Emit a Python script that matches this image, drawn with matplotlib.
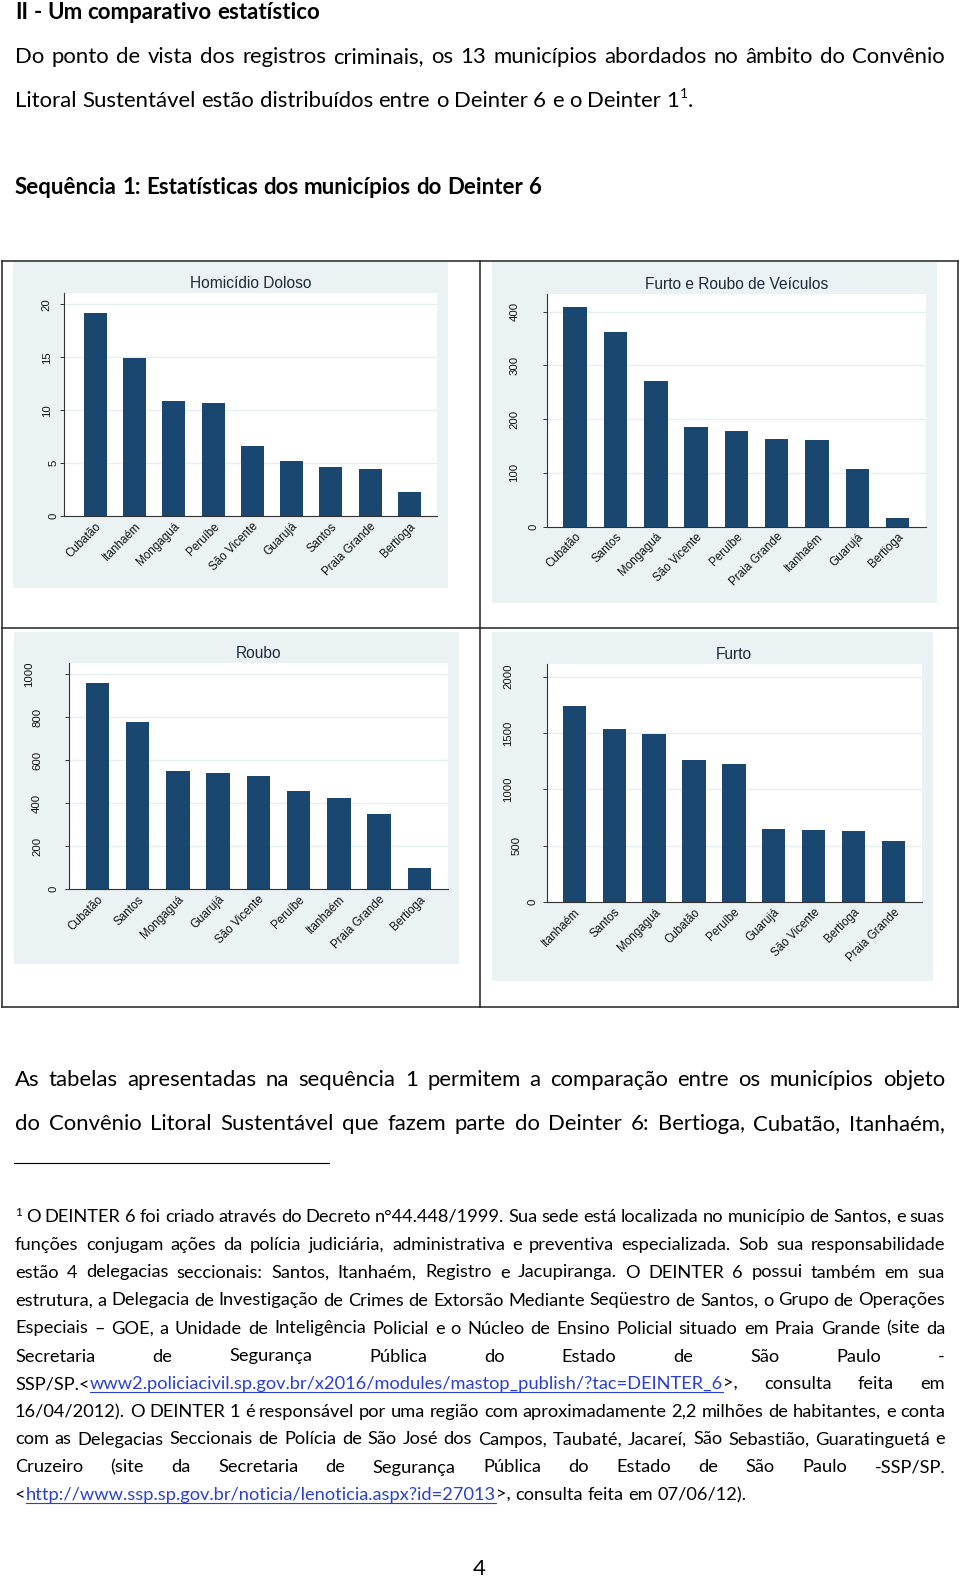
import matplotlib
matplotlib.use('Agg')
import matplotlib.pyplot as plt
import matplotlib.transforms as mtransforms
from matplotlib.lines import Line2D
import numpy as np

# ---------------- data ----------------
hom_labels = ['Cubatão', 'Itanhaém', 'Mongaguá', 'Peruíbe', 'São Vicente',
              'Guarujá', 'Santos', 'Praia Grande', 'Bertioga']
hom_values = [19.2, 14.9, 10.9, 10.7, 6.6, 5.2, 4.65, 4.5, 2.3]
hom_ticks = [0, 5, 10, 15, 20]

veic_labels = ['Cubatão', 'Santos', 'Mongaguá', 'São Vicente', 'Peruíbe',
               'Praia Grande', 'Itanhaém', 'Guarujá', 'Bertioga']
veic_values = [409, 361, 270, 186, 177, 163, 162, 107, 17]
veic_ticks = [0, 100, 200, 300, 400]

roubo_labels = ['Cubatão', 'Santos', 'Mongaguá', 'Guarujá', 'São Vicente',
                'Peruíbe', 'Itanhaém', 'Praia Grande', 'Bertioga']
roubo_values = [961, 778, 552, 543, 527, 459, 423, 349, 99]
roubo_ticks = [0, 200, 400, 600, 800, 1000]

furto_labels = ['Itanhaém', 'Santos', 'Mongaguá', 'Cubatão', 'Peruíbe',
                'Guarujá', 'São Vicente', 'Bertioga', 'Praia Grande']
furto_values = [1740, 1535, 1494, 1260, 1225, 645, 642, 633, 538]
furto_ticks = [0, 500, 1000, 1500, 2000]

titles = ['Homicídio Doloso', 'Furto e Roubo de Veículos', 'Roubo', 'Furto']

heading1 = 'II - Um comparativo estatístico'
heading2 = 'Sequência 1: Estatísticas dos municípios do Deinter 6'
para1 = ['Do ponto de vista dos registros criminais, os 13 municípios abordados no âmbito do Convênio',
         'Litoral Sustentável estão distribuídos entre o Deinter 6 e o Deinter']
para2 = ['As tabelas apresentadas na sequência 1 permitem a comparação entre os municípios objeto',
         'do Convênio Litoral Sustentável que fazem parte do Deinter 6: Bertioga, Cubatão, Itanhaém,']
link1 = 'www2.policiacivil.sp.gov.br/x2016/modules/mastop_publish/?tac=DEINTER_6'
link2 = 'http://www.ssp.sp.gov.br/noticia/lenoticia.aspx?id=27013'
foot = [
    'O DEINTER 6 foi criado através do Decreto n°44.448/1999. Sua sede está localizada no município de Santos, e suas',
    'funções conjugam ações da polícia judiciária, administrativa e preventiva especializada. Sob sua responsabilidade',
    'estão 4 delegacias seccionais: Santos, Itanhaém, Registro e Jacupiranga. O DEINTER 6 possui também em sua',
    'estrutura, a Delegacia de Investigação de Crimes de Extorsão Mediante Seqüestro de Santos, o Grupo de Operações',
    'Especiais – GOE, a Unidade de Inteligência Policial e o Núcleo de Ensino Policial situado em Praia Grande (site da',
    'Secretaria de Segurança Pública do Estado de São Paulo -',
    'consulta feita em',
    '16/04/2012). O DEINTER 1 é responsável por uma região com aproximadamente 2,2 milhões de habitantes, e conta',
    'com as Delegacias Seccionais de Polícia de São José dos Campos, Taubaté, Jacareí, São Sebastião, Guaratinguetá e',
    'Cruzeiro (site da Secretaria de Segurança Pública do Estado de São Paulo -SSP/SP.',
    'consulta feita em 07/06/12).',
]
page_number = '4'

# ---------------- setup ----------------
W, H = 960, 1579
fig = plt.figure(figsize=(W / 100, H / 100), dpi=100)
fig.patch.set_facecolor('white')
renderer = fig.canvas.get_renderer()

TEXT_FONT = ['Lato', 'DejaVu Sans']
CHART_FONT = ['Liberation Sans', 'DejaVu Sans']
BG = '#eaf2f3'
BAR = '#1a476f'
GRID = '#e6eef0'
AXC = '#333333'
TITLEC = '#1c2a3a'
LINKC = '#2a3fd6'


def X(x):
    return x / W


def Y(y):
    return 1 - y / H


def measure(s, size, weight='normal'):
    t = fig.text(0, 0, s, fontsize=size, fontweight=weight, family=TEXT_FONT)
    w = t.get_window_extent(renderer).width
    t.remove()
    return w


def words_of(s, kind='n'):
    return [[(w, kind)] for w in s.split(' ')]


def seg_w(seg, size, weight):
    txt, kind = seg
    if kind == 'sup':
        return measure(txt, size * 0.62, weight)
    return measure(txt, size, weight)


def space_w(size, weight):
    return measure('a a', size, weight) - measure('aa', size, weight)


def natural(words, size, weight='normal'):
    tot = sum(seg_w(s, size, weight) for w in words for s in w)
    return tot + space_w(size, weight) * (len(words) - 1)


def draw_line(words, baseline, x0, x1, size, weight='normal', justify=True):
    ws = [[seg_w(s, size, weight) for s in w] for w in words]
    tot = sum(sum(a) for a in ws)
    if justify and len(words) > 1:
        gap = (x1 - x0 - tot) / (len(words) - 1)
    else:
        gap = space_w(size, weight)
    x = x0
    for w, wl in zip(words, ws):
        for (txt, kind), sw in zip(w, wl):
            if kind == 'sup':
                fig.text(X(x), Y(baseline - size * 100 / 72 * 0.38), txt,
                         fontsize=size * 0.62, fontweight=weight, family=TEXT_FONT,
                         ha='left', va='baseline', color='black')
            else:
                c = LINKC if kind == 'link' else 'black'
                fig.text(X(x), Y(baseline), txt, fontsize=size, fontweight=weight,
                         family=TEXT_FONT, ha='left', va='baseline', color=c)
                if kind == 'link':
                    fig.add_artist(Line2D([X(x), X(x + sw)], [Y(baseline + 2.5)] * 2,
                                          color=LINKC, lw=0.8))
            x += sw
        x += gap


# ---------------- text ----------------
LM, RM = 15, 945

h1 = words_of(heading1)
s_h1 = 14 * (321 - LM) / natural(h1, 14, 'bold')
draw_line(h1, 19, LM, RM, s_h1, 'bold', justify=False)

p1l2 = words_of(para1[1]) + [[('1', 'n'), ('1', 'sup'), ('.', 'n')]]
s_body = 14 * (693 - LM) / natural(p1l2, 14)
draw_line(words_of(para1[0]), 62.7, LM, RM, s_body)
draw_line(p1l2, 106.7, LM, RM, s_body, justify=False)

h2 = words_of(heading2)
s_h2 = 14 * (543 - LM) / natural(h2, 14, 'bold')
draw_line(h2, 194.3, LM, RM, s_h2, 'bold', justify=False)

draw_line(words_of(para2[0]), 1086, LM, RM, s_body)
draw_line(words_of(para2[1]), 1130.5, LM, RM, s_body)

fig.add_artist(Line2D([X(14), X(329)], [Y(1162.5)] * 2, color='black', lw=0.8))

# footnote
f_last = [[('<', 'n'), (link2, 'link'), ('>,', 'n')]] + words_of(foot[10])
s_foot = 12 * (741 - LM) / natural(f_last, 12)
fbase = [1222, 1250, 1277.5, 1305.5, 1333.5, 1361.5, 1389, 1417, 1444.5, 1472.5, 1500]
fig.text(X(LM), Y(fbase[0] - 6), '1', fontsize=s_foot * 0.65, family=TEXT_FONT,
         ha='left', va='baseline')
draw_line(words_of(foot[0]), fbase[0], 26, RM, s_foot)
for i in range(1, 6):
    draw_line(words_of(foot[i]), fbase[i], LM, RM, s_foot)
f7 = [[('SSP/SP.<', 'n'), (link1, 'link'), ('>,', 'n')]] + words_of(foot[6])
draw_line(f7, fbase[6], LM, RM, s_foot)
for i in range(7, 10):
    draw_line(words_of(foot[i]), fbase[i], LM, RM, s_foot)
draw_line(f_last, fbase[10], LM, RM, s_foot, justify=False)

fig.text(X(479.5), Y(1575), page_number, fontsize=s_body, family=TEXT_FONT,
         ha='center', va='baseline')

# ---------------- table frame ----------------
def hline(y, x0, x1, lw=1.1):
    fig.add_artist(Line2D([X(x0), X(x1)], [Y(y), Y(y)], color='#222222', lw=lw))


def vline(x, y0, y1, lw=1.1):
    fig.add_artist(Line2D([X(x), X(x)], [Y(y0), Y(y1)], color='#222222', lw=lw))


hline(261, 2, 958)
hline(628, 2, 958)
hline(1007, 2, 958)
vline(2, 261, 1007)
vline(958, 261, 1007)
vline(480, 261, 1007)


# ---------------- charts ----------------
def panel(bg, plot, xlim, ylim, ticks, labels, values, title, lab_a, lab_b):
    l, t, r, b = bg
    bax = fig.add_axes([X(l), Y(b), (r - l) / W, (b - t) / H])
    bax.set_facecolor(BG)
    bax.set_xticks([])
    bax.set_yticks([])
    for sp in bax.spines.values():
        sp.set_visible(False)

    l, t, r, b = plot
    ax = fig.add_axes([X(l), Y(b), (r - l) / W, (b - t) / H])
    ax.set_facecolor('white')
    x = np.arange(len(labels))
    ax.bar(x, values, width=0.585, color=BAR, zorder=3)
    ax.set_xlim(*xlim)
    ax.set_ylim(*ylim)
    ax.set_yticks(ticks)
    ax.yaxis.grid(True, color=GRID, lw=1.0)
    ax.set_axisbelow(True)
    ax.tick_params(axis='y', length=2.9, width=0.7, color=AXC, labelleft=False)
    ax.set_xticks(x)
    ax.set_xticklabels(labels, rotation=45, ha='right', rotation_mode='anchor',
                       fontsize=8.4, family=CHART_FONT, color='#111111')
    ax.tick_params(axis='x', length=0, pad=3)
    for k in ('top', 'right'):
        ax.spines[k].set_visible(False)
    for k in ('left', 'bottom'):
        ax.spines[k].set_color(AXC)
        ax.spines[k].set_linewidth(0.8)
        ax.spines[k].set_zorder(4)
    for tv in ticks:
        lbl = str(tv)
        off = lab_a + lab_b * (len(lbl) - 1)
        tr = ax.get_yaxis_transform() + mtransforms.ScaledTranslation(-off / 100, 0, fig.dpi_scale_trans)
        ax.text(0, tv, lbl, transform=tr, rotation=90, ha='center', va='center',
                fontsize=8.2, family=CHART_FONT, color='#111111')
    ax.set_title(title, pad=3.6, fontsize=11.2, family=CHART_FONT, color=TITLEC)
    return ax


panel((13, 262, 448, 588), (64.3, 292.7, 436.7, 516.3), (-0.785, 8.69), (0, 21.1),
      hom_ticks, hom_labels, hom_values, titles[0], 11, 6.6)
panel((491.7, 262, 937.3, 603), (546.7, 294.3, 926, 526.7), (-0.707, 8.705), (0, 432),
      veic_ticks, veic_labels, veic_values, titles[1], 13.2, 9.5)
panel((14, 631.7, 459, 964), (69.3, 662.7, 448.3, 889.3), (-0.695, 8.72), (0, 1054),
      roubo_ticks, roubo_labels, roubo_values, titles[2], 15.8, 8.2)
panel((491.7, 631.7, 932.7, 980.7), (546.7, 664.3, 921.7, 902), (-0.694, 8.71), (0, 2109),
      furto_ticks, furto_labels, furto_values, titles[3], 14.2, 8.1)

fig.savefig('out.png', dpi=100, facecolor='white')
